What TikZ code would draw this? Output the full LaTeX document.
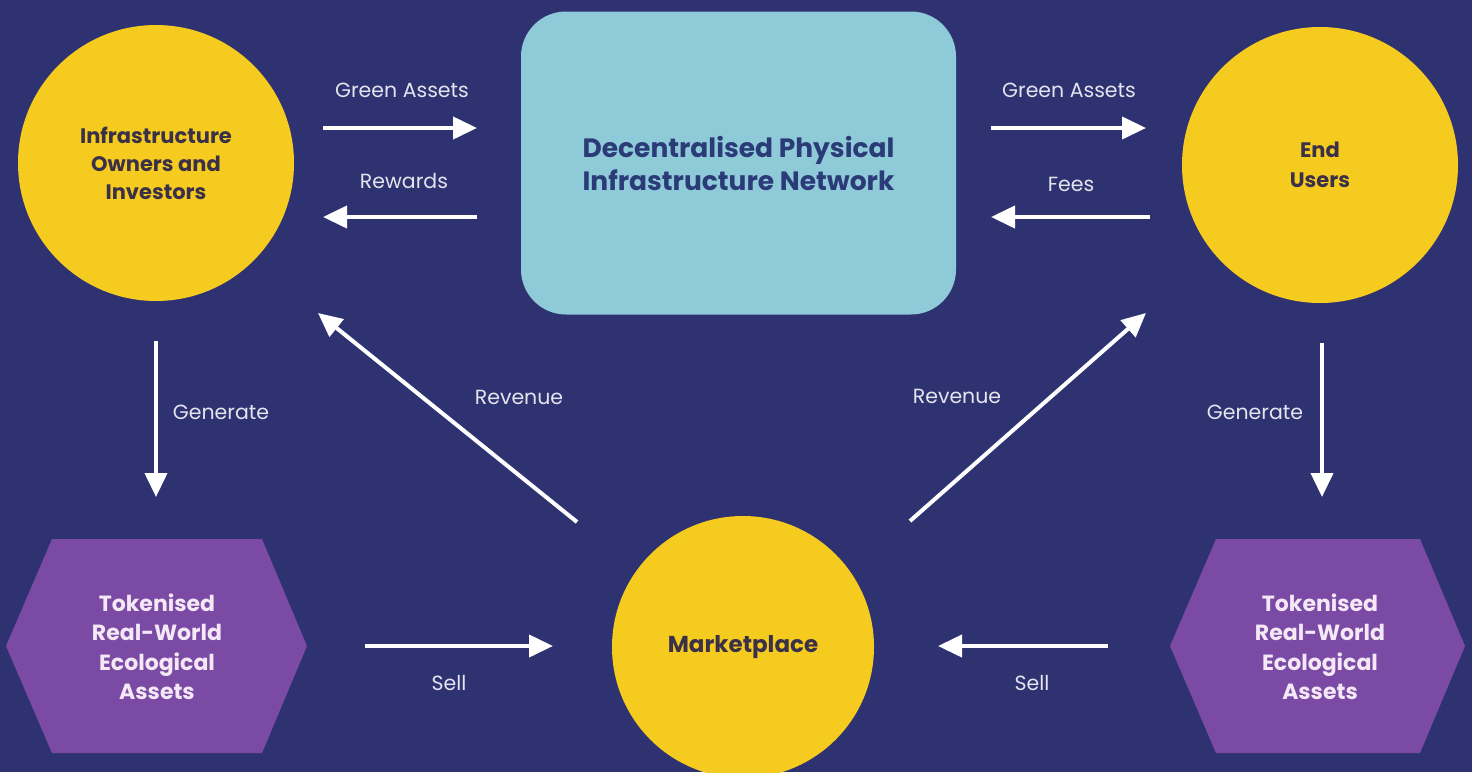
\documentclass[tikz,border=0pt]{standalone}
\usepackage{fontspec}
\setmainfont{Poppins}
\usetikzlibrary{arrows.meta}
\definecolor{bg}{HTML}{2F3271}
\definecolor{sun}{HTML}{F6CB1F}
\definecolor{sky}{HTML}{8FCAD8}
\definecolor{plum}{HTML}{7A4AA5}
\definecolor{ink}{HTML}{3A3148}
\definecolor{navyink}{HTML}{2B3B78}
\definecolor{lbl}{HTML}{E4E4EE}
\definecolor{hextext}{HTML}{F4E8F6}
\begin{document}
\begin{tikzpicture}[x=1pt,y=-1pt,
  flow/.style={draw=white, line width=4pt, -{Triangle[length=24pt,width=22pt]}},
  lab/.style={text=lbl, inner sep=0pt, font=\fontsize{20.5}{24}\selectfont},
  circ/.style={circle, fill=sun, minimum size=276pt, inner sep=0pt, text=ink, align=center,
    font=\bfseries\fontsize{21}{28}\selectfont},
  hextxt/.style={text=hextext, align=center, inner sep=0pt, font=\bfseries\fontsize{22}{29.5}\selectfont},
  hexfill/.style={fill=plum}
]
\clip (0,0) rectangle (1472,772);
\fill[bg] (0,0) rectangle (1472,772);

% main nodes
\node[circ] (owners) at (156,163) {Infrastructure\\Owners and\\Investors};
\node[circ, font=\bfseries\fontsize{21}{30}\selectfont] (users) at (1320,165) {End\\Users};
\node[circ, minimum size=262pt, font=\bfseries\fontsize{23}{28}\selectfont] (market) at (743,647) {Marketplace};
\node[rounded corners=45pt, fill=sky, minimum width=435pt, minimum height=303pt, inner sep=0pt,
  text=navyink, align=center, font=\bfseries\fontsize{26.5}{33}\selectfont] (depin) at (738.5,163)
  {Decentralised Physical\\Infrastructure Network};

% hexagons
\fill[hexfill] (6,646) -- (52,539) -- (262,539) -- (307,646) -- (262,753) -- (52,753) -- cycle;
\node[hextxt] (tokL) at (157,647) {Tokenised\\Real-World\\Ecological\\Assets};
\fill[hexfill] (1170,646) -- (1216,539) -- (1420,539) -- (1465,646) -- (1420,753) -- (1216,753) -- cycle;
\node[hextxt] (tokR) at (1320,647) {Tokenised\\Real-World\\Ecological\\Assets};

% arrow end points
\coordinate (a1s) at (323,128); \coordinate (a1e) at (477,128);
\coordinate (a2s) at (477,217); \coordinate (a2e) at (323,217);
\coordinate (a3s) at (991,128); \coordinate (a3e) at (1146,128);
\coordinate (a4s) at (1150,217); \coordinate (a4e) at (991,217);
\coordinate (a5s) at (156,341); \coordinate (a5e) at (156,497);
\coordinate (a6s) at (1322,343); \coordinate (a6e) at (1322,497);
\coordinate (a7s) at (577,522); \coordinate (a7e) at (318,313);
\coordinate (a8s) at (910,521); \coordinate (a8e) at (1146,313);
\coordinate (a9s) at (365,646); \coordinate (a9e) at (553,646);
\coordinate (a10s) at (1108,646); \coordinate (a10e) at (938,646);

\draw[flow] (a1s) -- (a1e);
\draw[flow] (a2s) -- (a2e);
\draw[flow] (a3s) -- (a3e);
\draw[flow] (a4s) -- (a4e);
\draw[flow] (a5s) -- (a5e);
\draw[flow] (a6s) -- (a6e);
\draw[flow] (a7s) -- (a7e);
\draw[flow] (a8s) -- (a8e);
\draw[flow] (a9s) -- (a9e);
\draw[flow] (a10s) -- (a10e);

% labels
\node[lab] (l1) at (402,90) {Green Assets};
\node[lab] (l2) at (404,181) {Rewards};
\node[lab] (l3) at (1069,90) {Green Assets};
\node[lab] (l4) at (1071,184) {Fees};
\node[lab] (l5) at (221,412) {Generate};
\node[lab] (l6) at (1255,412) {Generate};
\node[lab] (l7) at (519,397) {Revenue};
\node[lab] (l8) at (957,396) {Revenue};
\node[lab] (l9) at (449,683) {Sell};
\node[lab] (l10) at (1032,683) {Sell};
\end{tikzpicture}
\end{document}
